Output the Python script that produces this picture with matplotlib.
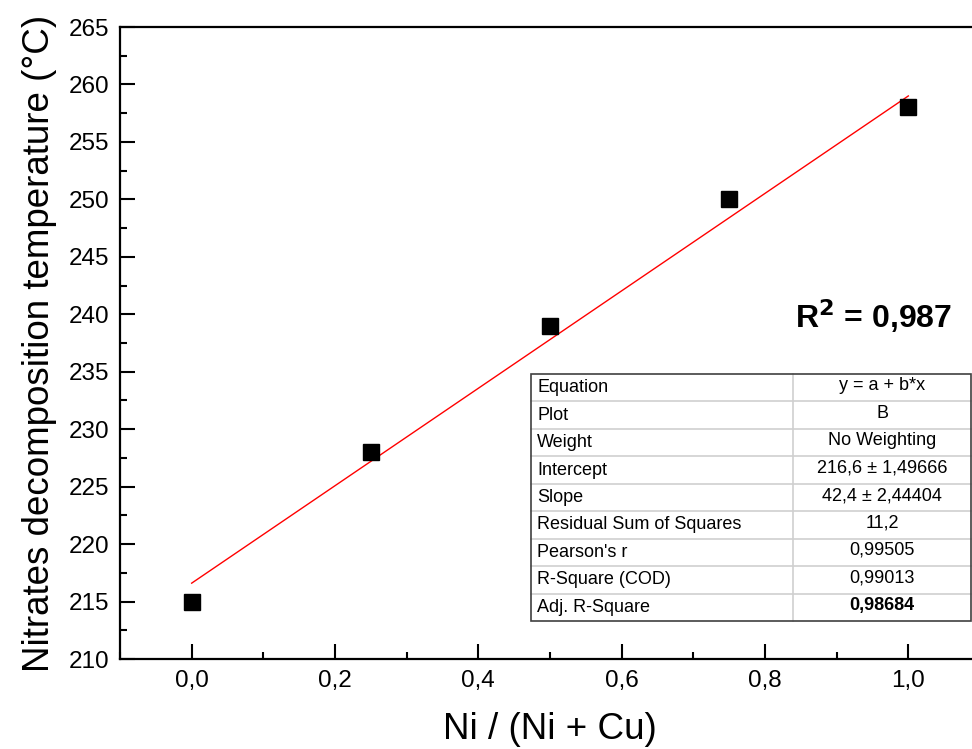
import matplotlib.pyplot as plt
from matplotlib.patches import Rectangle
from matplotlib.ticker import MultipleLocator, FuncFormatter

plt.rcParams['font.family'] = ['Liberation Sans', 'DejaVu Sans']

# dados
ni_frac = [0.0, 0.25, 0.5, 0.75, 1.0]
temp = [215, 228, 239, 250, 258]
intercept = 216.6
slope = 42.4
fit_x = [0.0, 1.0]

stat_names = ['Equation', 'Plot', 'Weight', 'Intercept', 'Slope',
              'Residual Sum of Squares', "Pearson's r", 'R-Square (COD)',
              'Adj. R-Square']
stat_values = ['y = a + b*x', 'B', 'No Weighting', '216,6 \u00b1 1,49666',
               '42,4 \u00b1 2,44404', '11,2', '0,99505', '0,99013', '0,98684']
r2_text = '0,987'

fig = plt.figure(figsize=(9.72, 7.49), dpi=100)
ax = fig.add_axes([120 / 972, 90 / 749, 860 / 972, 632 / 749])

# linha do ajuste
fit_y = [intercept + slope * x for x in fit_x]
ax.plot(fit_x, fit_y, color='#ff0000', lw=1.0, zorder=2)
ax.plot(ni_frac, temp, 's', color='black', ms=11, zorder=3)

ax.set_xlim(-0.1, 1.1)
ax.set_ylim(210, 265)
ax.xaxis.set_major_locator(MultipleLocator(0.2))
ax.xaxis.set_minor_locator(MultipleLocator(0.1))
ax.yaxis.set_major_locator(MultipleLocator(5))
ax.yaxis.set_minor_locator(MultipleLocator(2.5))
ax.xaxis.set_major_formatter(FuncFormatter(lambda v, p: f'{v:.1f}'.replace('.', ',')))
ax.tick_params(which='both', direction='in', width=1.5, labelsize=17.5,
               top=False, right=False)
ax.tick_params(which='major', length=11, pad=8)
ax.tick_params(which='minor', length=5)
for s in ax.spines.values():
    s.set_linewidth(1.6)

ax.set_xlabel('Ni / (Ni + Cu)', fontsize=26.5, labelpad=14)
ax.set_ylabel('Nitrates decomposition temperature (\u00b0C)', fontsize=26.5, labelpad=8)

# tabela de estatisticas
tx0, tx1, tx2 = 0.478, 0.783, 0.9895
ty0, ty1 = 0.0601, 0.451
nrow = len(stat_names)
rh = (ty1 - ty0) / nrow
for i, (name, val) in enumerate(zip(stat_names, stat_values)):
    yc = ty1 - (i + 0.5) * rh
    ax.text(tx0 + 0.007, yc, name, transform=ax.transAxes, ha='left', va='center',
            fontsize=13, zorder=6)
    ax.text((tx1 + tx2) / 2, yc + 0.003, val, transform=ax.transAxes, ha='center',
            va='center', fontsize=13, zorder=6,
            fontweight='bold' if i == nrow - 1 else 'normal')
    if i > 0:
        yl = ty1 - i * rh
        ax.plot([tx0, tx2], [yl, yl], transform=ax.transAxes, color='#cfcfcf',
                lw=1.2, zorder=5)
ax.add_patch(Rectangle((tx0, ty0), tx2 - tx0, ty1 - ty0, transform=ax.transAxes,
                       facecolor='white', edgecolor='none', zorder=4))
ax.plot([tx1, tx1], [ty0, ty1], transform=ax.transAxes, color='#cfcfcf', lw=1.2, zorder=5)
ax.add_patch(Rectangle((tx0, ty0), tx2 - tx0, ty1 - ty0, transform=ax.transAxes,
                       facecolor='none', edgecolor='#404040', lw=1.2, zorder=7))

ax.text(0.876, 0.543, r'R$^{\mathbf{2}}$ = ' + r2_text, transform=ax.transAxes,
        ha='center', va='center', fontsize=23, fontweight='bold')

fig.savefig('out.png', dpi=100)
